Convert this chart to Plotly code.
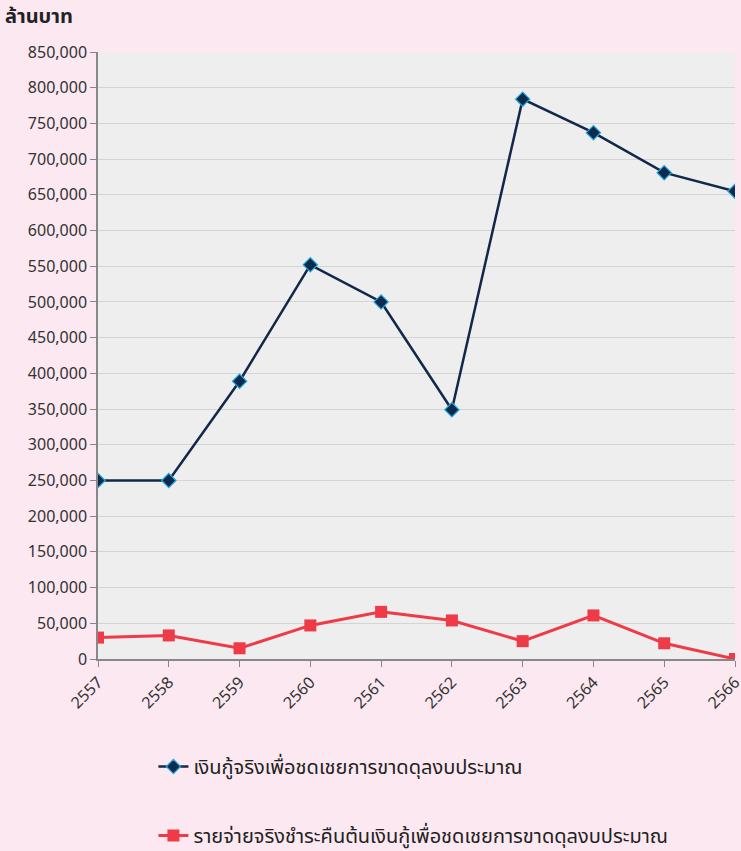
import plotly.graph_objects as go

years = ["2557", "2558", "2559", "2560", "2561", "2562", "2563", "2564", "2565", "2566"]
loans = [250000, 250000, 389000, 552000, 500000, 349000, 784000, 737000, 681000, 655000]
repay = [30000, 33000, 15000, 47000, 66000, 54000, 25000, 61000, 22000, 0]
y_ticks = list(range(0, 850001, 50000))
y_labels = [f"{v:,}" for v in y_ticks]

name1 = "เงินกู้จริงเพื่อชดเชยการขาดดุลงบประมาณ"
name2 = "รายจ่ายจริงชำระคืนต้นเงินกู้เพื่อชดเชยการขาดดุลงบประมาณ"

font_family = "Noto Sans Thai, Noto Sans, Tahoma, sans-serif"

fig = go.Figure()
fig.add_trace(go.Scatter(
    x=years, y=loans, name=name1, mode="lines+markers", legendgroup="a",
    line=dict(color="#12284a", width=2.5),
    marker=dict(symbol="diamond", size=11, color="#0e2a4c",
                line=dict(color="#22a8e0", width=1.2)),
))
fig.add_trace(go.Scatter(
    x=years, y=repay, name=name2, mode="lines+markers", legendgroup="b",
    line=dict(color="#ef3a48", width=3),
    marker=dict(symbol="square", size=12, color="#ef3a48"),
))

fig.update_layout(
    width=741, height=851,
    paper_bgcolor="#fce8f0",
    plot_bgcolor="#eeeeee",
    margin=dict(l=98, r=6, t=52, b=192, autoexpand=False),
    font=dict(family=font_family, size=16, color="#333333"),
    showlegend=True,
    legend=dict(
        orientation="v", x=0.087, xanchor="left", y=0.1222, yanchor="top",
        xref="paper", yref="container",
        font=dict(size=20, color="#222222"),
        tracegroupgap=40, bgcolor="rgba(0,0,0,0)",
    ),
    annotations=[dict(
        text="<b>ล้านบาท</b>", xref="paper", yref="paper",
        x=-0.149, y=1.058, xanchor="left", yanchor="middle",
        showarrow=False, font=dict(size=20, color="#222222", family=font_family),
    )],
)
fig.update_xaxes(
    type="category", range=[0, 9], tickangle=-45, automargin=False,
    showline=True, linecolor="#888888", linewidth=1.5,
    ticks="outside", ticklen=6, tickcolor="#888888",
    showgrid=False, tickfont=dict(size=16, color="#333333"),
)
fig.update_yaxes(
    range=[0, 850000], tickvals=y_ticks, ticktext=y_labels, automargin=False,
    showline=True, linecolor="#888888", linewidth=1.5,
    ticks="outside", ticklen=6, tickcolor="#888888",
    gridcolor="#d4d4d4", gridwidth=1, zeroline=False,
    tickfont=dict(size=16, color="#333333"),
)

fig.write_html("out.html", config={"displayModeBar": False},
               post_script="document.body.style.margin='0';document.body.style.background='#fce8f0';")
